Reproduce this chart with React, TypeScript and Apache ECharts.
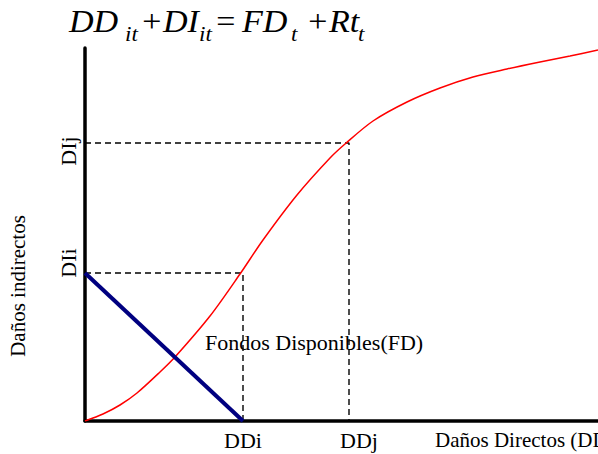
import React, { useEffect, useRef } from "react";
import * as echarts from "echarts";

// Data (units: arbitrary)
const xMax = 513;
const yMax = 373;
const redCurveX = [0, 18, 35, 52, 75, 90, 125, 155, 178, 212, 245, 260, 288, 322, 355, 388, 422, 455, 485, 513];
const redCurveY = [0, 7, 16, 28, 49, 64, 105, 147, 181, 226, 263, 277, 300, 319, 333, 344, 352, 359, 365, 371];
const blueLineX = [0, 158];
const blueLineY = [148, 0];
const ddTicks = [158, 264];
const ddTickLabels = ["DDi", "DDj"];
const diTicks = [148, 278];
const diTickLabels = ["DIi", "DIj"];

// Title: DD_it + DI_it = FD_t + Rt_t  (text pieces; "sub" marks subscripts)
const titleTexts = ["DD", "it", "+DI", "it", "=", "FD", "t", "+", "Rt", "t"];
const titleSub = [false, true, false, true, false, false, true, false, false, true];
const xAxisName = "Daños Directos (DD)";
const yAxisName = "Daños indirectos";
const curveLabel = "Fondos Disponibles(FD)";

const SERIF = "Liberation Serif";

export default function App() {
  const ref = useRef<HTMLDivElement>(null);
  useEffect(() => {
    document.body.style.margin = "0";
    if (!ref.current) return;
    const chart = echarts.init(ref.current, null, { renderer: "svg" });

    const guides = ddTicks.map((dd, i) => ({
      type: "line",
      data: [
        [0, diTicks[i]],
        [dd, diTicks[i]],
        [dd, 0],
      ],
      symbol: "none",
      lineStyle: { color: "#000", width: 1.4, type: [6, 4] },
      z: 1,
      silent: true,
    }));

    // layout of title pieces (pixels)
    const titleX = [69, 125, 140, 199, 214, 242, 291, 306, 329, 358];
    const titleEls = titleTexts.map((t, i) => {
      const sub = titleSub[i];
      const fs = sub ? 21 : 31;
      const baseline = sub ? 41 : 32;
      return {
        type: "text",
        x: titleX[i],
        y: baseline - 0.3375 * fs,
        scaleX: 1.1,
        style: {
          text: t,
          font: `italic ${fs}px ${SERIF}`,
          fill: "#000",
          align: "left",
          verticalAlign: "middle",
        },
      };
    });

    const xLabelRich: any = {
      DDi: { fontFamily: SERIF, fontSize: 22, color: "#000", padding: [0, 0, 0, 0] },
      DDj: { fontFamily: SERIF, fontSize: 22, color: "#000", padding: [0, 0, 0, 20] },
    };
    const yLabelRich: any = {
      DIi: { fontFamily: SERIF, fontSize: 22, color: "#000", padding: [0, 0, 0, 20] },
      DIj: { fontFamily: SERIF, fontSize: 22, color: "#000", padding: [0, 16, 0, 0] },
    };

    chart.setOption({
      animation: false,
      grid: { left: 85, right: 0, top: 48, bottom: 33, containLabel: false },
      xAxis: {
        type: "value",
        min: 0,
        max: xMax,
        splitLine: { show: false },
        axisTick: { show: false },
        axisLine: { lineStyle: { color: "#000", width: 3.5 } },
        axisLabel: {
          customValues: ddTicks,
          margin: 8,
          formatter: (v: number) => {
            const i = ddTicks.indexOf(v);
            const n = i >= 0 ? ddTickLabels[i] : "";
            return n ? `{${n}|${n}}` : "";
          },
          rich: xLabelRich,
        },
      },
      yAxis: {
        type: "value",
        min: 0,
        max: yMax,
        splitLine: { show: false },
        axisTick: { show: false },
        axisLine: { lineStyle: { color: "#000", width: 3.5 } },
        axisLabel: {
          customValues: diTicks,
          rotate: 90,
          margin: 6,
          formatter: (v: number) => {
            const i = diTicks.indexOf(v);
            const n = i >= 0 ? diTickLabels[i] : "";
            return n ? `{${n}|${n}}` : "";
          },
          rich: yLabelRich,
        },
      },
      series: [
        ...guides,
        {
          type: "line",
          data: redCurveX.map((x, i) => [x, redCurveY[i]]),
          symbol: "none",
          smooth: 0.3,
          lineStyle: { color: "#ff0000", width: 1.5 },
          z: 2,
        },
        {
          type: "line",
          data: blueLineX.map((x, i) => [x, blueLineY[i]]),
          symbol: "none",
          lineStyle: { color: "#000080", width: 4 },
          z: 3,
        },
      ],
      graphic: [
        ...titleEls,
        {
          type: "text",
          left: 435,
          top: 429,
          style: { text: xAxisName, font: `21px ${SERIF}`, fill: "#000" },
        },
        {
          type: "text",
          x: 18,
          y: 286,
          rotation: Math.PI / 2,
          style: { text: yAxisName, font: `21px ${SERIF}`, fill: "#000", align: "center", verticalAlign: "middle" },
        },
        {
          type: "text",
          left: 205,
          top: 331,
          z: 10,
          style: { text: curveLabel, font: `22px ${SERIF}`, fill: "#000" },
        },
      ],
    });
    return () => chart.dispose();
  }, []);
  return <div ref={ref} style={{ width: 598, height: 454 }} />;
}
